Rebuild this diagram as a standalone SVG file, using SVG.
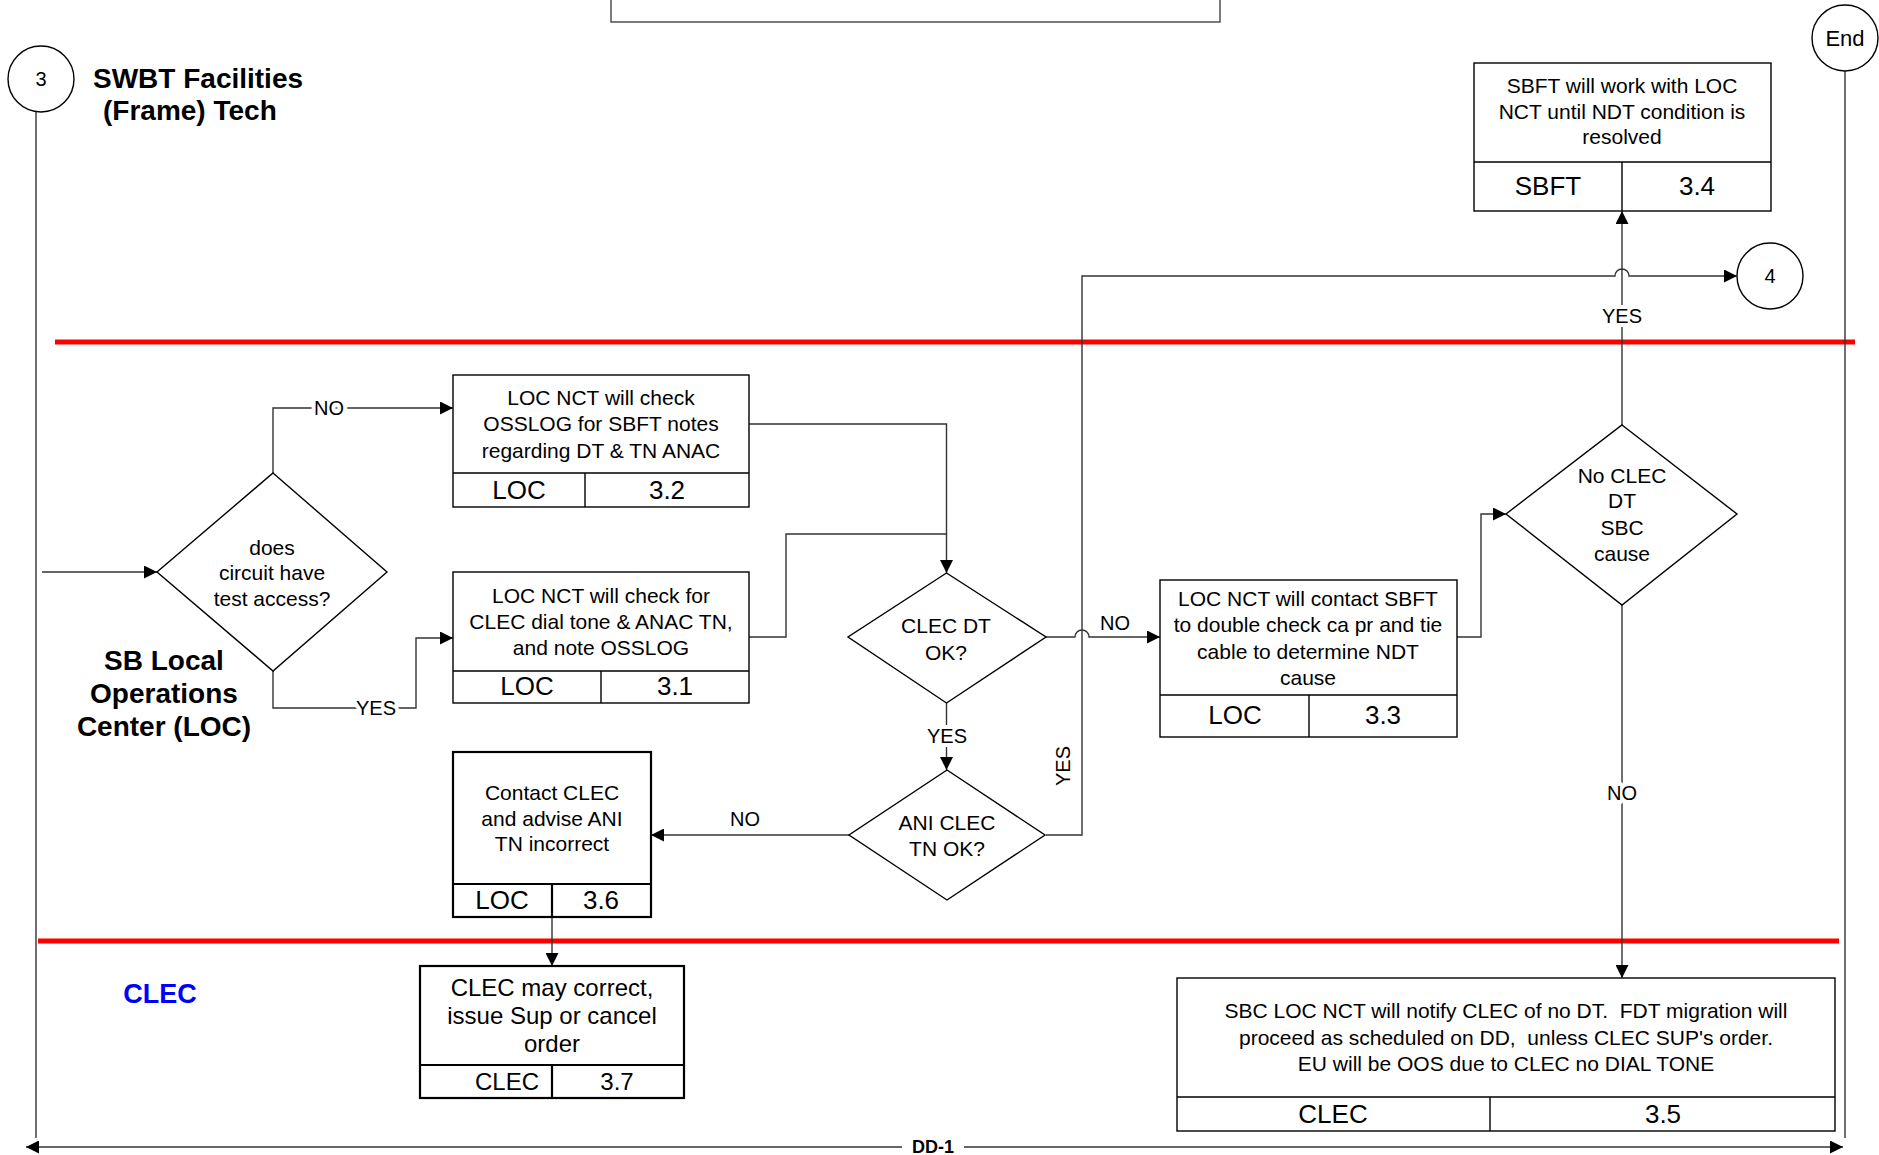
<svg xmlns="http://www.w3.org/2000/svg" width="1879" height="1155" viewBox="0 0 1879 1155">
<style>
text{font-family:"Liberation Sans",Arial,sans-serif;fill:#000}
.t{font-size:21px;text-anchor:middle}
.c{font-size:26px;text-anchor:middle}
.lb{font-size:20px;text-anchor:middle;paint-order:stroke;stroke:#fff;stroke-width:8px;stroke-linejoin:round}
.hd{font-size:28px;font-weight:bold}
.box{fill:#fff;stroke:#000;stroke-width:1.4}
.thk{fill:#fff;stroke:#000;stroke-width:2.2}
.dia{fill:#fff;stroke:#000;stroke-width:1.4}
.ln{fill:none;stroke:#333;stroke-width:1.4}
.red{stroke:#ff0000;stroke-width:5}
</style>
<defs>
<marker id="ar" viewBox="0 0 10 10" refX="10" refY="5" markerWidth="14" markerHeight="13" markerUnits="userSpaceOnUse" orient="auto"><path d="M0,0 L10,5 L0,10 z" fill="#000"/></marker>
</defs>
<rect width="1879" height="1155" fill="#fff"/>
<g id="lanes">
<line class="red" x1="55" y1="342" x2="1855" y2="342"/>
<line class="red" x1="38" y1="941" x2="1839" y2="941"/>
<line class="ln" x1="36" y1="112" x2="36" y2="1138"/>
<line class="ln" x1="1845" y1="71" x2="1845" y2="1138"/>
<text class="hd" x="93" y="88">SWBT Facilities</text>
<text class="hd" x="103" y="120">(Frame) Tech</text>
<text class="hd" x="164" y="670" text-anchor="middle">SB Local</text>
<text class="hd" x="164" y="703" text-anchor="middle">Operations</text>
<text class="hd" x="164" y="736" text-anchor="middle">Center (LOC)</text>
<text class="hd" x="160" y="1003" text-anchor="middle" style="fill:#0000ff;font-size:27px">CLEC</text>
</g>
<g id="topbox"><rect x="611" y="-40" width="609" height="62" fill="#fff" stroke="#444" stroke-width="1.4"/></g>
<g id="conn3"><circle cx="41" cy="79" r="33" class="box"/><text x="41" y="86" font-size="20" text-anchor="middle">3</text></g>
<g id="connEnd"><circle cx="1845" cy="38" r="33" class="box"/><text x="1845" y="46" font-size="22" text-anchor="middle">End</text></g>
<g id="conn4"><circle cx="1770" cy="276" r="33" class="box"/><text x="1770" y="283" font-size="20" text-anchor="middle">4</text></g>
<g id="connectors">
<path class="ln" d="M42,572 H157" marker-end="url(#ar)"/>
<path class="ln" d="M273,473 V408 H453" marker-end="url(#ar)"/>
<path class="ln" d="M273,671 V708 H416 V638 H453" marker-end="url(#ar)"/>
<path class="ln" d="M749,424 H946.5 V573" marker-end="url(#ar)"/>
<path class="ln" d="M749,637 H786 V534 H946.5"/>
<path class="ln" d="M1046,637 H1075 A7,7 0 0 1 1089,637 H1160" marker-end="url(#ar)"/>
<path class="ln" d="M946.5,703 V770" marker-end="url(#ar)"/>
<path class="ln" d="M849,835 H651" marker-end="url(#ar)"/>
<path class="ln" d="M1046,835 H1082 V276 H1615 A7,7 0 0 1 1629,276 H1737" marker-end="url(#ar)"/>
<path class="ln" d="M1457,637 H1481 V514 H1506" marker-end="url(#ar)"/>
<path class="ln" d="M1622,425 V211" marker-end="url(#ar)"/>
<path class="ln" d="M1622,605 V978" marker-end="url(#ar)"/>
<path class="ln" d="M552,917 V966" marker-end="url(#ar)"/>
<path class="ln" d="M902,1147 H26" marker-end="url(#ar)"/>
<path class="ln" d="M964,1147 H1843" marker-end="url(#ar)"/>
<text class="lb" x="329" y="415">NO</text>
<text class="lb" x="376" y="715">YES</text>
<text class="lb" x="1115" y="630">NO</text>
<text class="lb" x="947" y="743">YES</text>
<text class="lb" x="745" y="826">NO</text>
<text class="lb" x="1622" y="323">YES</text>
<text class="lb" x="1622" y="800">NO</text>
<text class="lb" x="0" y="0" transform="translate(1070,766) rotate(-90)">YES</text>
<text x="933" y="1153" font-size="18" font-weight="bold" text-anchor="middle">DD-1</text>
</g>
<g id="d_access">
<polygon class="dia" points="273,473 387,572 273,671 157,572"/>
<text class="t" x="272" y="555">does</text>
<text class="t" x="272" y="580">circuit have</text>
<text class="t" x="272" y="606">test access?</text>
</g>
<g id="b32">
<rect class="box" x="453" y="375" width="296" height="132"/>
<path d="M453,473 H749 M585,473 V507" stroke="#000" stroke-width="1.4"/>
<text class="t" x="601" y="405">LOC NCT will check</text>
<text class="t" x="601" y="431">OSSLOG for SBFT notes</text>
<text class="t" x="601" y="458">regarding DT &amp; TN ANAC</text>
<text class="c" x="519" y="499">LOC</text>
<text class="c" x="667" y="499">3.2</text>
</g>
<g id="b31">
<rect class="box" x="453" y="572" width="296" height="131"/>
<path d="M453,671 H749 M601,671 V703" stroke="#000" stroke-width="1.4"/>
<text class="t" x="601" y="603">LOC NCT will check for</text>
<text class="t" x="601" y="629">CLEC dial tone &amp; ANAC TN,</text>
<text class="t" x="601" y="655">and note OSSLOG</text>
<text class="c" x="527" y="695">LOC</text>
<text class="c" x="675" y="695">3.1</text>
</g>
<g id="d_dt">
<polygon class="dia" points="946.5,573 1046,637 946.5,703 848,637"/>
<text class="t" x="946" y="633">CLEC DT</text>
<text class="t" x="946" y="660">OK?</text>
</g>
<g id="d_ani">
<polygon class="dia" points="947,770 1045,835 947,900 849,835"/>
<text class="t" x="947" y="830">ANI CLEC</text>
<text class="t" x="947" y="856">TN OK?</text>
</g>
<g id="b33">
<rect class="box" x="1160" y="580" width="297" height="157"/>
<path d="M1160,695 H1457 M1309,695 V737" stroke="#000" stroke-width="1.4"/>
<text class="t" x="1308" y="606">LOC NCT will contact SBFT</text>
<text class="t" x="1308" y="632">to double check ca pr and tie</text>
<text class="t" x="1308" y="659">cable to determine NDT</text>
<text class="t" x="1308" y="685">cause</text>
<text class="c" x="1235" y="724">LOC</text>
<text class="c" x="1383" y="724">3.3</text>
</g>
<g id="d_nodt">
<polygon class="dia" points="1622,425 1737,514 1622,605 1506,514"/>
<text class="t" x="1622" y="483">No CLEC</text>
<text class="t" x="1622" y="508">DT</text>
<text class="t" x="1622" y="535">SBC</text>
<text class="t" x="1622" y="561">cause</text>
</g>
<g id="b34">
<rect class="box" x="1474" y="63" width="297" height="148"/>
<path d="M1474,162 H1771 M1622,162 V211" stroke="#000" stroke-width="1.4"/>
<text class="t" x="1622" y="93">SBFT will work with LOC</text>
<text class="t" x="1622" y="119">NCT until NDT condition is</text>
<text class="t" x="1622" y="144">resolved</text>
<text class="c" x="1548" y="195">SBFT</text>
<text class="c" x="1697" y="195">3.4</text>
</g>
<g id="b36">
<rect class="thk" x="453" y="752" width="198" height="165"/>
<path d="M453,884 H651 M552,884 V917" stroke="#000" stroke-width="2.2"/>
<text class="t" x="552" y="800">Contact CLEC</text>
<text class="t" x="552" y="826">and advise ANI</text>
<text class="t" x="552" y="851">TN incorrect</text>
<text class="c" x="502" y="909">LOC</text>
<text class="c" x="601" y="909">3.6</text>
</g>
<g id="b37">
<rect class="thk" x="420" y="966" width="264" height="132"/>
<path d="M420,1065 H684 M552,1065 V1098" stroke="#000" stroke-width="2.2"/>
<text class="t" style="font-size:24px" x="552" y="996">CLEC may correct,</text>
<text class="t" style="font-size:24px" x="552" y="1024">issue Sup or cancel</text>
<text class="t" style="font-size:24px" x="552" y="1052">order</text>
<text class="t" style="font-size:24px" x="507" y="1090">CLEC</text>
<text class="t" style="font-size:24px" x="617" y="1090">3.7</text>
</g>
<g id="b35">
<rect class="box" x="1177" y="978" width="658" height="153"/>
<path d="M1177,1097 H1835 M1490,1097 V1131" stroke="#000" stroke-width="1.4"/>
<text class="t" x="1506" y="1018">SBC LOC NCT will notify CLEC of no DT.&#160; FDT migration will</text>
<text class="t" x="1506" y="1045">proceed as scheduled on DD,&#160; unless CLEC SUP's order.</text>
<text class="t" x="1506" y="1071">EU will be OOS due to CLEC no DIAL TONE</text>
<text class="c" x="1333" y="1123">CLEC</text>
<text class="c" x="1663" y="1123">3.5</text>
</g>
</svg>
